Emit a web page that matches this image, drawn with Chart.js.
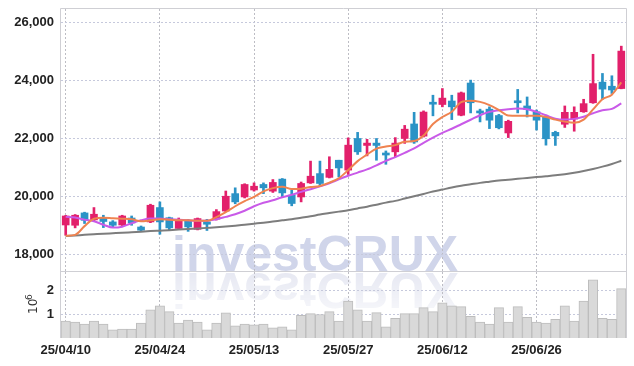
<!DOCTYPE html>
<html>
<head>
<meta charset="utf-8">
<script src="https://cdn.jsdelivr.net/npm/chart.js@4/dist/chart.umd.min.js"></script>
<style>
  html, body { margin: 0; padding: 0; background: #fff; }
  #wrap { position: relative; width: 634px; height: 366px; overflow: hidden; }
  canvas { position: absolute; left: 0; z-index: 1; }
  #price { top: 0; }
  #volume { top: 266px; }
  .mark {
    position: absolute; left: 172px; top: 229px; z-index: 0;
    font: bold 50px "Liberation Sans", Arial, sans-serif; line-height: 50px;
    color: #d0d5ea; white-space: nowrap; letter-spacing: 0;
  }
  .mark.flip {
    top: 231px; color: #e4e6f1;
    transform-origin: 0 42px; transform: scaleY(-1);
    -webkit-mask-image: linear-gradient(to bottom, rgba(0,0,0,0.3), rgba(0,0,0,1));
    mask-image: linear-gradient(to bottom, rgba(0,0,0,0.3), rgba(0,0,0,1));
  }
</style>
</head>
<body>
<div id="wrap">
  <div class="mark">investCRUX</div>
  <div class="mark flip">investCRUX</div>
  <canvas id="price" width="634" height="273"></canvas>
  <canvas id="volume" width="634" height="100"></canvas>
</div>
<script>
// trading days
const dates = ['25/04/10','25/04/11','25/04/14','25/04/15','25/04/16','25/04/17','25/04/18','25/04/21','25/04/22','25/04/23',
  '25/04/24','25/04/25','25/04/28','25/04/29','25/04/30','25/05/02','25/05/07','25/05/08','25/05/09','25/05/12',
  '25/05/13','25/05/14','25/05/15','25/05/16','25/05/19','25/05/20','25/05/21','25/05/22','25/05/23','25/05/26',
  '25/05/27','25/05/28','25/05/29','25/05/30','25/06/02','25/06/04','25/06/05','25/06/09','25/06/10','25/06/11',
  '25/06/12','25/06/13','25/06/16','25/06/17','25/06/18','25/06/19','25/06/20','25/06/23','25/06/24','25/06/25',
  '25/06/26','25/06/27','25/06/30','25/07/01','25/07/02','25/07/03','25/07/04','25/07/07','25/07/08','25/07/09'];
const dateTickIdx = [0, 10, 20, 30, 40, 50];

const open  = [19020,19010,19435,19195,19260,19125,19020,19260,18950,19125, 19620,19270,18900,19180,18870,19125,19220,19500,20100,19985,
  20225,20415,20185,20600,20045,19985,20470,20790,20660,21250, 20910,22000,21760,21840,21500,21540,22000,22500,22080,23230,
  23170,23290,22800,23910,22940,23010,22790,22190,23290,23120, 22920,22750,22210,22490,22670,22920,23230,23940,23800,23720];
const high  = [19350,19380,19460,19620,19355,19170,19355,19330,18985,19735, 19815,19290,19260,19215,19260,19215,19550,20190,20300,20440,
  20470,20470,20585,20620,20220,20500,21220,21220,21370,21250, 22020,22210,21970,22000,21570,22030,22450,22900,22950,23490,
  23720,23490,23600,24010,23010,23090,22830,22630,23690,23430, 22980,22800,22250,23120,23090,23350,24900,24240,24160,25180];
const low   = [18665,18920,19070,19160,18930,18940,19000,19010,18800,19100, 18700,18840,18860,18800,18850,18830,19190,19480,19750,19950,
  20185,20100,20140,19985,19680,19815,20450,20380,20640,20675, 20760,21450,21400,21250,21110,21370,21830,21830,22050,22780,
  23090,22650,22780,22880,22570,22340,22330,22030,22880,22740, 22290,21770,21760,22380,22250,22900,23210,23350,23550,23710];
const close = [19330,19355,19180,19390,19140,19010,19330,19090,18840,19700, 19125,18920,19215,18955,19240,19045,19480,20010,19815,20415,
  20355,20300,20485,20125,19760,20450,20700,20450,20935,20985, 21770,21540,21840,21760,21430,21840,22320,21880,22910,23180,
  23390,23090,23570,23230,22880,22630,22370,22590,23230,23000, 22630,21990,22090,22900,22900,23200,23890,23700,23670,25010];

const ma5 = [18650,18680,18980,19235,19270,19250,19235,19215,19150,19180, 19215,19200,19180,19180,19165,19165,19290,19460,19665,19840,
  19990,20180,20290,20340,20255,20270,20325,20360,20480,20630, 20910,21220,21445,21650,21720,21770,21890,21910,22100,22500,
  22740,22920,23250,23300,23260,23150,22980,22790,22780,22780, 22780,22740,22650,22580,22540,22650,23000,23350,23510,23930];
const ma20 = [19300,19275,19200,19150,19030,18930,18960,19080,19180,19240, 19240,19215,19200,19180,19165,19165,19215,19300,19390,19510,
  19665,19785,19870,19975,20060,20160,20250,20350,20455,20590, 20715,20825,20935,21075,21230,21360,21505,21660,21850,22030,
  22195,22335,22490,22645,22800,22915,22970,23010,23030,23005, 22915,22800,22680,22650,22675,22750,22870,22970,23020,23210];
const ma120 = [18640,18660,18680,18700,18720,18735,18750,18770,18790,18810, 18825,18840,18860,18880,18900,18920,18940,18965,18995,19030,
  19065,19100,19140,19180,19220,19270,19320,19380,19430,19480, 19530,19590,19650,19720,19790,19850,19930,20010,20090,20170,
  20240,20310,20370,20420,20470,20510,20550,20580,20610,20640, 20670,20700,20730,20770,20820,20880,20950,21030,21120,21230];

const volume = [710000,670000,590000,710000,590000,340000,380000,380000,630000,1190000, 1360000,1110000,630000,750000,670000,340000,630000,1060000,510000,590000,
  550000,590000,430000,470000,340000,950000,1030000,990000,1110000,710000, 1560000,1190000,710000,1070000,470000,830000,1030000,1030000,1280000,1110000,
  1480000,1360000,1320000,910000,670000,590000,1280000,670000,1320000,870000, 670000,630000,790000,1360000,710000,1560000,2450000,830000,790000,2080000];

const priceTicks = [18000, 20000, 22000, 24000, 26000];
const volumeTicks = [1000000, 2000000];

const UP = '#e2206b', DOWN = '#2b93c6';
const candleColors = close.map((c, i) => c >= open[i] ? UP : DOWN);

Chart.defaults.font.family = '"Liberation Sans", Arial, sans-serif';
Chart.defaults.animation = false;

const H_GRID = '#c6c9dc', V_GRID = '#bdbdc4', FRAME = '#cfcfd4';

const frame = {
  id: 'frame',
  afterDraw(chart) {
    const a = chart.chartArea, ctx = chart.ctx;
    ctx.save();
    ctx.strokeStyle = FRAME;
    ctx.lineWidth = 1;
    ctx.beginPath();
    ctx.moveTo(Math.round(a.left) - 0.5, a.bottom);
    ctx.lineTo(Math.round(a.left) - 0.5, Math.round(a.top) - 0.5);
    ctx.lineTo(Math.round(a.right) + 0.5, Math.round(a.top) - 0.5);
    ctx.lineTo(Math.round(a.right) + 0.5, a.bottom);
    ctx.stroke();
    ctx.restore();
  }
};

function xScale(showLabels) {
  return {
    offset: true,
    grid: { offset: false, color: V_GRID, drawTicks: false },
    border: { display: false, dash: [2, 2] },
    afterBuildTicks: s => { s.ticks = dateTickIdx.map(i => ({ value: i })); },
    afterFit: s => { s.height = showLabels ? 28 : 0; s.paddingLeft = 0; s.paddingRight = 0; },
    ticks: {
      display: showLabels, autoSkip: false, maxRotation: 0, padding: 5,
      color: '#222', font: { size: 13, weight: 'bold' }
    }
  };
}

function yFit(s) {
  s.width = 61;
  s.paddingTop = 0;
  s.paddingBottom = 0;
}

new Chart(document.getElementById('price'), {
  type: 'bar',
  data: {
    labels: dates,
    datasets: [
      { type: 'line', data: ma5, borderColor: '#ef8350', borderWidth: 2, pointRadius: 0, cubicInterpolationMode: 'monotone' },
      { type: 'line', data: ma20, borderColor: '#c95ae8', borderWidth: 2, pointRadius: 0, cubicInterpolationMode: 'monotone' },
      { type: 'line', data: ma120, borderColor: '#7d7d7d', borderWidth: 2, pointRadius: 0, cubicInterpolationMode: 'monotone' },
      { data: open.map((o, i) => [o, close[i]]), backgroundColor: candleColors, barThickness: 7, grouped: false, minBarLength: 2 },
      { data: low.map((l, i) => [l, high[i]]), backgroundColor: candleColors, barThickness: 2, grouped: false }
    ]
  },
  options: {
    responsive: false,
    layout: { padding: { top: 9, right: 8, bottom: 1, left: 0 } },
    plugins: { legend: { display: false }, tooltip: { enabled: false } },
    scales: {
      x: xScale(false),
      y: {
        min: 17400, max: 26460,
        afterBuildTicks: s => { s.ticks = priceTicks.map(v => ({ value: v })); },
        afterFit: yFit,
        grid: { color: H_GRID, drawTicks: false },
        border: { display: false, dash: [2, 2] },
        ticks: {
          padding: 7, color: '#222', font: { size: 13, weight: 'bold' },
          callback: v => v.toLocaleString('en-US')
        }
      }
    }
  },
  plugins: [frame]
});

const volumeTitle = {
  id: 'volumeTitle',
  afterDraw(chart) {
    const ctx = chart.ctx;
    ctx.save();
    ctx.translate(37, 41);
    ctx.rotate(-Math.PI / 2);
    ctx.fillStyle = '#333';
    ctx.textBaseline = 'alphabetic';
    ctx.font = '12px "DejaVu Sans", sans-serif';
    ctx.fillText('10', -7, 0);
    ctx.font = '9px "DejaVu Sans", sans-serif';
    ctx.fillText('6', 7, -5);
    ctx.restore();
  }
};

new Chart(document.getElementById('volume'), {
  type: 'bar',
  data: {
    labels: dates,
    datasets: [{
      data: volume, backgroundColor: '#d9d9d9', borderColor: '#bdbdbd', borderWidth: 1,
      barPercentage: 1, categoryPercentage: 1
    }]
  },
  options: {
    responsive: false,
    layout: { padding: { top: 6, right: 8, bottom: 0, left: 0 } },
    plugins: { legend: { display: false }, tooltip: { enabled: false } },
    scales: {
      x: xScale(true),
      y: {
        min: 0, max: 2780000,
        afterBuildTicks: s => { s.ticks = volumeTicks.map(v => ({ value: v })); },
        afterFit: yFit,
        grid: { color: H_GRID, drawTicks: false },
        border: { display: false, dash: [2, 2] },
        ticks: {
          padding: 7, color: '#222', font: { size: 13, weight: 'bold' },
          callback: v => String(v / 1000000)
        }
      }
    }
  },
  plugins: [frame, volumeTitle]
});
</script>
</body>
</html>
